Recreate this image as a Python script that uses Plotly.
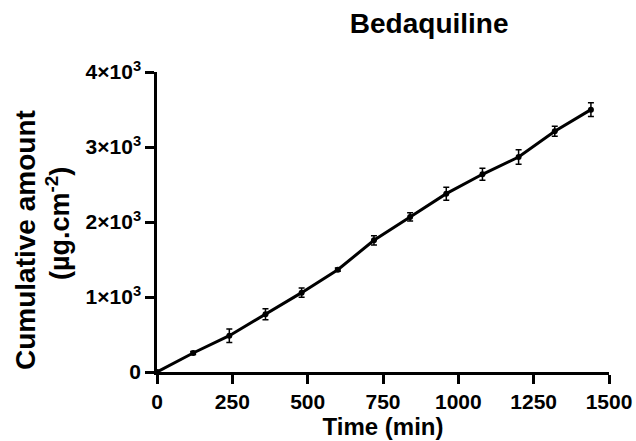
import plotly.graph_objects as go

time_min = [0, 120, 240, 360, 480, 600, 720, 840, 960, 1080, 1200, 1320, 1440]
cumulative = [0, 253, 484, 769, 1058, 1364, 1756, 2067, 2378, 2636, 2867, 3209, 3498]
error_sd = [0, 20, 89, 73, 62, 22, 62, 55, 87, 80, 98, 67, 91]

x_ticks = [0, 250, 500, 750, 1000, 1250, 1500]
x_ticklabels = ["0", "250", "500", "750", "1000", "1250", "1500"]
y_ticks = [0, 1000, 2000, 3000, 4000]
y_ticklabels = ["0", "1×10<sup>3</sup>", "2×10<sup>3</sup>", "3×10<sup>3</sup>", "4×10<sup>3</sup>"]

FONT = "Liberation Sans, Arial, sans-serif"
W, H = 636, 441
L, R, T, B = 157, 27, 72, 69
pw, ph = W - L - R, H - T - B

fig = go.Figure()
fig.add_trace(go.Scatter(
    x=time_min, y=cumulative, mode="lines+markers",
    line=dict(color="black", width=3),
    marker=dict(color="black", size=6),
    error_y=dict(type="data", array=error_sd, visible=True, color="black", thickness=1.5, width=3),
    cliponaxis=False, showlegend=False,
))

def px_to_paper_x(px):
    return (px - L) / pw

def px_to_paper_y(py):
    return (H - B - py) / ph

fig.update_layout(
    width=W, height=H,
    margin=dict(l=L, r=R, t=T, b=B, autoexpand=False),
    paper_bgcolor="white", plot_bgcolor="white",
    font=dict(family=FONT, color="black"),
    title=dict(text="<b>Bedaquiline</b>", font=dict(size=28, family=FONT, color="black"),
               x=383 / W, xanchor="center", y=1 - 23 / H, yanchor="middle", xref="paper", yref="container"),
    xaxis=dict(
        range=[0, 1500], tickvals=x_ticks, ticktext=x_ticklabels,
        showline=True, linecolor="black", linewidth=2.5, mirror=False,
        ticks="outside", ticklen=9, tickwidth=2.5, tickcolor="black",
        showgrid=False, zeroline=False,
        tickfont=dict(size=21, family=FONT, color="black", weight=700),
        title=dict(text="Time (min)", font=dict(size=24, family=FONT, color="black", weight=700), standoff=6),
    ),
    yaxis=dict(
        range=[0, 4000], tickvals=y_ticks, ticktext=y_ticklabels,
        showline=True, linecolor="black", linewidth=2.5, mirror=False,
        ticks="outside", ticklen=9, tickwidth=2.5, tickcolor="black",
        showgrid=False, zeroline=False,
        tickfont=dict(size=21, family=FONT, color="black", weight=700),
    ),
)

fig.add_annotation(text="<b>Cumulative amount</b>", textangle=-90, showarrow=False,
                   xref="paper", yref="paper", x=px_to_paper_x(25), y=px_to_paper_y(240),
                   xanchor="center", yanchor="middle", font=dict(size=28, family=FONT, color="black"))
fig.add_annotation(text="<b>(µg.cm<sup>-2</sup>)</b>", textangle=-90, showarrow=False,
                   xref="paper", yref="paper", x=px_to_paper_x(58), y=px_to_paper_y(224),
                   xanchor="center", yanchor="middle", font=dict(size=27, family=FONT, color="black"))

fig.write_html("out.html", config={"displayModeBar": False},
               post_script="document.body.style.margin='0';document.body.style.overflow='hidden';")
